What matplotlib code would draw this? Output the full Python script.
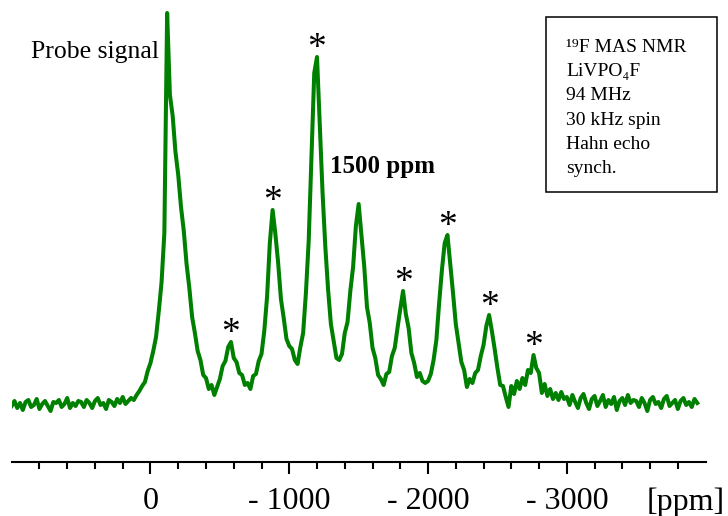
import numpy as np
import matplotlib
matplotlib.use("Agg")
import matplotlib.pyplot as plt
from matplotlib.patches import Rectangle
from matplotlib.ticker import FixedLocator, FuncFormatter

plt.rcParams["font.family"] = ["Liberation Serif", "DejaVu Serif"]

# 19F MAS NMR spectrum, one value every 20 ppm
# starting at +1000 ppm (arbitrary intensity units, baseline ~ 0)
seg_p1000 = [-3, 2, -5, 0, -7, 1, 3, -4, -2, 4, -6, -1, 2, -3, -8, 1, 0, 3, -4, -1, 5, -5, 0, -3, 2]
seg_p500 = [1, -4, 3, 0, -5, 2, 5, -2, 0, -6, 3, 1, -3, 4, 0, 6, -1, 2, 5, 3, 8, 12, 17, 21, 32]
seg_0 = [40, 52, 66, 92, 121, 170, 390, 308, 287, 251, 228, 196, 172, 139, 115, 86, 70, 52, 43, 28, 25, 14, 18, 8, 16]
seg_m500 = [24, 37, 42, 56, 61, 45, 41, 30, 28, 18, 20, 14, 27, 29, 42, 49, 72, 106, 160, 193, 169, 140, 104, 85, 64]
seg_m1000 = [57, 54, 43, 39, 56, 70, 110, 162, 245, 330, 346, 278, 210, 156, 113, 79, 62, 45, 43, 49, 70, 81, 112, 136, 177]
seg_m1500 = [199, 168, 137, 96, 80, 55, 45, 28, 24, 18, 29, 31, 47, 55, 75, 94, 112, 89, 75, 50, 40, 26, 30, 22, 20]
seg_m2000 = [22, 29, 43, 63, 100, 133, 160, 168, 139, 110, 79, 60, 41, 33, 16, 24, 20, 30, 33, 47, 58, 77, 88, 72, 54]
seg_m2500 = [35, 18, 17, 6, -4, 17, 9, 22, 14, 25, 18, 33, 30, 48, 35, 30, 10, 19, 7, 14, 4, 10, 3, 11, 4]
seg_m3000 = [6, -2, 8, 1, -5, 5, 9, 0, -6, 4, 7, -3, 2, 8, -4, 3, -1, 6, -7, 2, 5, -2, 8, 0, 3]
seg_m3500 = [2, -4, 5, 0, -8, 3, 6, -1, 1, -5, 4, 7, -3, 0, 3, -6, 2, 5, -2, 1, -4, 4, 0]

# spinning sidebands marked with *
sideband_ppm = [-580, -880, -1200, -1820, -2140, -2440, -2760]

info_lines = ["\u00b9\u2079F MAS NMR", "LiVPO\u2084F", "94 MHz", "30 kHz spin", "Hahn echo", "synch."]
major_ticks = [0, -1000, -2000, -3000]
minor_ticks = [800, 600, 400, 200, -200, -400, -600, -800, -1200, -1400, -1600, -1800,
               -2200, -2400, -2600, -2800, -3200, -3400, -3600, -3800]

intensity = np.array(seg_p1000 + seg_p500 + seg_0 + seg_m500 + seg_m1000 + seg_m1500
                     + seg_m2000 + seg_m2500 + seg_m3000 + seg_m3500, dtype=float)
ppm = 1000 - 20 * np.arange(len(intensity))

W, H = 728, 516
fig = plt.figure(figsize=(W / 100, H / 100), dpi=100)
ax = fig.add_axes([11.7 / W, (H - 461.7) / H, (705.6 - 11.7) / W, 461.7 / H])
ax.plot(ppm, intensity, color="#008000", lw=2.9, solid_joinstyle="round")

ax.set_xlim(1000, -4000)
ax.set_ylim(-58.7, 403)
for s in ["top", "left", "right"]:
    ax.spines[s].set_visible(False)
ax.spines["bottom"].set_linewidth(1.5)
ax.set_yticks([])
ax.xaxis.set_major_locator(FixedLocator(major_ticks))
ax.xaxis.set_minor_locator(FixedLocator(minor_ticks))
ax.xaxis.set_major_formatter(FuncFormatter(lambda v, pos: "0" if v == 0 else f"- {abs(int(v))}"))
ax.tick_params(axis="x", which="major", length=8.9, width=1.5, pad=9, labelsize=23)
ax.tick_params(axis="x", which="minor", length=5.3, width=1.5)

# asterisks above the sidebands
for p in sideband_ppm:
    near = np.abs(ppm - p) <= 40
    top = intensity[near].max()
    ax.annotate("*", xy=(p, top), xytext=(0, 6), textcoords="offset points",
                ha="center", va="center", fontsize=27)

ax.text(-61, 345, "Probe signal", ha="right", va="baseline", fontsize=18.5)
ax.text(-1293, 230, "1500 ppm", ha="left", va="baseline", fontsize=18, fontweight="bold")

fig.text(725 / W, (H - 510) / H, "[ppm]", ha="right", va="baseline", fontsize=23)

# info box
fig.patches.append(Rectangle((546 / W, (H - 192) / H), 171 / W, 175 / H, transform=fig.transFigure,
                             fill=False, edgecolor="black", linewidth=1.1))
for i, line in enumerate(info_lines):
    fig.text(566 / W, (H - 51.7 - 24.3 * i) / H, line, ha="left", va="baseline", fontsize=14)

fig.savefig("out.png", dpi=100)
